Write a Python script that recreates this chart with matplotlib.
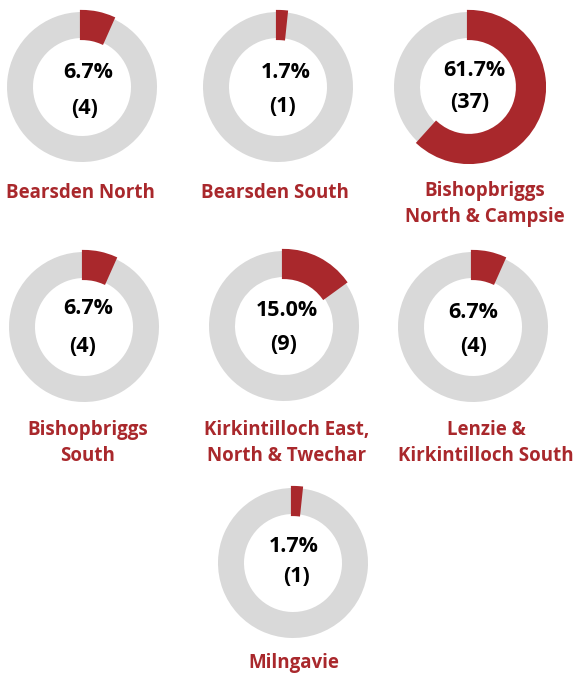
import matplotlib
matplotlib.use('Agg')
import matplotlib.pyplot as plt

# datos
areas = ['Bearsden North', 'Bearsden South', 'Bishopbriggs\nNorth & Campsie',
         'Bishopbriggs\nSouth', 'Kirkintilloch East,\nNorth & Twechar',
         'Lenzie &\nKirkintilloch South', 'Milngavie']
counts = [4, 1, 37, 4, 9, 4, 1]
pcts = ['6.7%', '1.7%', '61.7%', '6.7%', '15.0%', '6.7%', '1.7%']
total = 60

# posiciones en pixeles (x, y desde arriba)
centros = [(82, 87), (278, 87), (469, 87), (84, 327), (284, 326), (473, 327), (293, 563)]
pos_pct = [(88, 72), (286, 72), (474, 70), (88, 308), (287, 310), (473, 313), (294, 547)]
pos_cnt = [(85, 108), (282, 107), (470, 102), (83, 347), (284, 345), (474, 347), (297, 577)]
pos_lab = [(80, 193), (275, 193), (485, 204), (88, 443), (287, 443), (486, 443), (294, 663)]

ROJO = '#A9282C'
GRIS = '#D9D9D9'
W, H = 574, 677
R = 75
FUENTE = 'Open Sans'

fig = plt.figure(figsize=(W / 100, H / 100), dpi=100)
ax = fig.add_axes([0, 0, 1, 1])

for i, area in enumerate(areas):
    cx, cy = centros[i]
    frac = counts[i] / total
    wedges, _ = ax.pie([frac, 1 - frac], colors=[ROJO, GRIS], startangle=90,
                       counterclock=False, radius=R, center=(cx, H - cy),
                       wedgeprops=dict(width=26, linewidth=0))
    wedges[0].set_edgecolor(ROJO)
    wedges[0].set_linewidth(3)
    wedges[0].set_joinstyle('miter')
    wedges[0].set_zorder(3)

    px, py = pos_pct[i]
    ax.text(px, H - py, pcts[i], ha='center', va='center', fontsize=15.5,
            fontweight='bold', family=FUENTE, color='black')
    qx, qy = pos_cnt[i]
    ax.text(qx, H - qy, f'({counts[i]})', ha='center', va='center', fontsize=15.5,
            fontweight='bold', family=FUENTE, color='black')
    lx, ly = pos_lab[i]
    ax.text(lx, H - ly, area, ha='center', va='center', fontsize=13.5,
            fontweight='bold', family=FUENTE, color=ROJO, linespacing=1.4)

ax.set_xlim(0, W)
ax.set_ylim(0, H)
ax.set_aspect('auto')
ax.axis('off')

plt.savefig('out.png', dpi=100)
plt.close()
